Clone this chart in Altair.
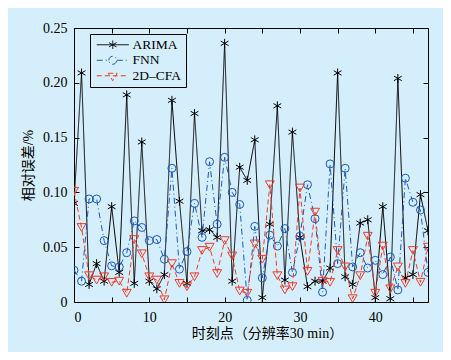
import altair as alt
import pandas as pd

# ---- data ----
t_vals = list(range(48))
arima = [0.090, 0.209, 0.016, 0.035, 0.019, 0.087, 0.027, 0.189, 0.017, 0.146,
         0.019, 0.012, 0.025, 0.184, 0.092, 0.017, 0.172, 0.065, 0.066, 0.059,
         0.236, 0.019, 0.123, 0.111, 0.148, 0.004, 0.071, 0.179, 0.020, 0.155,
         0.059, 0.014, 0.019, 0.019, 0.031, 0.209, 0.023, 0.016, 0.072, 0.075,
         0.004, 0.087, 0.003, 0.204, 0.022, 0.025, 0.098, 0.065]
fnn = [0.029, 0.019, 0.094, 0.094, 0.056, 0.033, 0.032, 0.045, 0.074, 0.068,
       0.056, 0.057, 0.039, 0.122, 0.030, 0.046, 0.090, 0.059, 0.128, 0.071,
       0.132, 0.100, 0.089, 0.0015, 0.069, 0.022, 0.061, 0.051, 0.067, 0.027,
       0.060, 0.107, 0.076, 0.009, 0.126, 0.035, 0.122, 0.032, 0.045, 0.031,
       0.038, 0.025, 0.041, 0.011, 0.113, 0.091, 0.084, 0.027]
cfa = [0.101, 0.068, 0.024, 0.020, 0.023, 0.018, 0.019, 0.008, 0.057, 0.044,
       0.023, 0.020, 0.002, 0.035, 0.017, 0.014, 0.023, 0.047, 0.050, 0.026,
       0.056, 0.042, 0.010, 0.008, 0.053, 0.039, 0.107, 0.024, 0.011, 0.014,
       0.104, 0.028, 0.082, 0.019, 0.018, 0.047, 0.032, 0.003, 0.024, 0.060,
       0.008, 0.051, 0.012, 0.032, 0.017, 0.047, 0.018, 0.050]
series_names = ["ARIMA", "FNN", "2D\u2013CFA"]
x_ticks = [0, 5, 10, 15, 20, 25, 30, 35, 40, 45]
y_ticks = [0, 0.05, 0.10, 0.15, 0.20, 0.25]

# ---- styles ----
colors = ["#000000", "#1a58bd", "#ee3b2b"]
dashes = [[1, 0], [6, 3, 1, 3], [5, 3]]
STAR = "M0,-1V1M-0.87,-0.5L0.87,0.5M-0.87,0.5L0.87,-0.5"
marker_shapes = [STAR, "circle", "triangle-down"]
marker_sizes = [80, 64, 80]
# legend symbol: size 100 -> 1 unit = 5 px
legend_paths = [
    "M-3.2,0H3.2M0,-0.85V0.85M-0.74,-0.42L0.74,0.42M-0.74,0.42L0.74,-0.42",
    "M-3.2,0H-0.8M0.8,0H3.2M-0.8,0A0.8,0.8 0 1,1 0.8,0A0.8,0.8 0 1,1 -0.8,0",
    "M-3.2,0H3.2M-0.9,-0.5L0.9,-0.5L0,1.0Z",
]
BG = "#d5eefb"
SERIF = "Liberation Serif, Times New Roman, serif"
MIXED = "Liberation Serif, Noto Sans CJK SC, sans-serif"

rows = []
for name, vals in zip(series_names, [arima, fnn, cfa]):
    for t, v in zip(t_vals, vals):
        rows.append({"t": t, "err": v, "series": name})
df = pd.DataFrame(rows)

xscale = alt.Scale(domain=[0, 47], nice=False, zero=False)
yscale = alt.Scale(domain=[0, 0.25], nice=False)

axis_common = dict(domain=False, tickSize=5, offset=-5, tickColor="black",
                   tickWidth=1, labelFont=SERIF, labelFontSize=14,
                   labelColor="black", titleFont=MIXED, titleFontSize=14,
                   titleColor="black", titleFontWeight="normal", grid=False,
                   minExtent=0)

x_bottom = alt.Axis(values=x_ticks, title="时刻点（分辨率30 min）",
                    labelExpr="datum.value % 10 == 0 ? datum.label : ''",
                    labelPadding=8, titlePadding=2, titleX=193, **axis_common)
y_left = alt.Axis(values=y_ticks, title="相对误差/%",
                  labelExpr="datum.value == 0 ? '0' : format(datum.value, '.2f')",
                  labelPadding=7, titlePadding=7, **axis_common)
x_top = alt.Axis(values=x_ticks, orient="top", labels=False, title=None,
                 maxExtent=0, **axis_common)
y_right = alt.Axis(values=y_ticks, orient="right", labels=False, title=None,
                   maxExtent=0, **axis_common)

base = alt.Chart(df)
layers = []
for i, name in enumerate(series_names):
    sub = base.transform_filter(alt.datum.series == name)
    if i == 0:
        xa, ya = x_bottom, y_left
    elif i == 1:
        xa, ya = x_top, y_right
    else:
        xa, ya = None, None
    line = sub.mark_line(color=colors[i], strokeWidth=1, strokeDash=dashes[i],
                         clip=True).encode(
        x=alt.X("t:Q", scale=xscale, axis=xa),
        y=alt.Y("err:Q", scale=yscale, axis=ya),
    )
    pts = sub.mark_point(shape=marker_shapes[i], size=marker_sizes[i],
                         color=colors[i], filled=False, strokeWidth=1,
                         clip=True, opacity=1).encode(
        x=alt.X("t:Q", scale=xscale, axis=None),
        y=alt.Y("err:Q", scale=yscale, axis=None),
    )
    layers += [line, pts]

leg = alt.Legend(title=None, orient="none", legendX=16, legendY=6,
                 strokeColor="black", fillColor=BG, padding=4,
                 symbolSize=100, symbolStrokeWidth=1, symbolOpacity=1,
                 symbolOffset=12, labelOffset=13,
                 labelFont=SERIF, labelFontSize=13.5, labelColor="black",
                 rowPadding=0.5, cornerRadius=0)
legend_layer = base.mark_point(filled=False, opacity=0).encode(
    x=alt.X("t:Q", scale=xscale, axis=None),
    y=alt.Y("err:Q", scale=yscale, axis=None),
    color=alt.Color("series:N", scale=alt.Scale(domain=series_names, range=colors), legend=leg),
    shape=alt.Shape("series:N", scale=alt.Scale(domain=series_names, range=legend_paths), legend=leg),
    strokeDash=alt.StrokeDash("series:N", scale=alt.Scale(domain=series_names, range=dashes), legend=leg),
)
layers.append(legend_layer)

chart = alt.layer(*layers).resolve_axis(x="independent", y="independent").properties(
    width=435, height=344, background=BG,
    autosize=alt.AutoSizeParams(type="fit", contains="padding"),
    padding={"left": 13, "top": 13, "right": 6, "bottom": 12},
).configure_view(stroke="black", strokeWidth=1)

chart.save("out.html", embed_options={"renderer": "svg", "actions": False})
